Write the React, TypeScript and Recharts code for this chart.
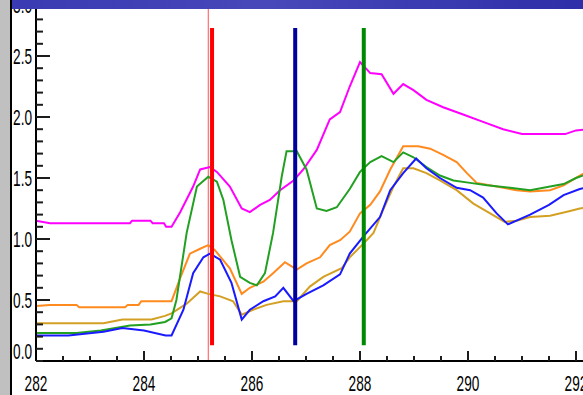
import { LineChart, Line, XAxis, YAxis, ReferenceLine } from "recharts";

// values
const MAGENTA_X = [282, 282.26, 283.74, 283.78, 284.12, 284.16, 284.37, 284.41, 284.51, 284.67, 284.91, 285.04, 285.22, 285.35, 285.59, 285.81, 285.96, 286.15, 286.33, 286.52, 286.77, 286.95, 287.2, 287.44, 287.63, 287.81, 288.0, 288.19, 288.4, 288.62, 288.8, 288.99, 289.23, 289.54, 289.91, 290.28, 290.65, 291.0, 291.8, 292.0, 292.25];
const MAGENTA_Y = [1.15, 1.13, 1.13, 1.15, 1.15, 1.13, 1.13, 1.1, 1.1, 1.22, 1.43, 1.57, 1.59, 1.55, 1.43, 1.25, 1.22, 1.28, 1.32, 1.4, 1.48, 1.57, 1.73, 1.98, 2.04, 2.25, 2.45, 2.36, 2.35, 2.19, 2.27, 2.22, 2.14, 2.08, 2.02, 1.96, 1.9, 1.86, 1.86, 1.89, 1.9];

const GREEN_X = [282, 282.75, 283.2, 283.74, 284.12, 284.39, 284.51, 284.6, 284.79, 284.98, 285.19, 285.35, 285.47, 285.62, 285.78, 285.96, 286.09, 286.24, 286.39, 286.55, 286.64, 286.83, 287.01, 287.2, 287.38, 287.57, 287.81, 288.0, 288.19, 288.4, 288.62, 288.8, 288.99, 289.23, 289.48, 289.73, 290.04, 290.35, 290.78, 291.15, 291.52, 291.77, 292.0, 292.25];
const GREEN_Y = [0.23, 0.23, 0.25, 0.29, 0.3, 0.32, 0.35, 0.5, 1.05, 1.43, 1.51, 1.47, 1.32, 0.99, 0.69, 0.64, 0.62, 0.72, 1.05, 1.51, 1.72, 1.72, 1.57, 1.25, 1.23, 1.26, 1.41, 1.55, 1.63, 1.68, 1.63, 1.71, 1.67, 1.59, 1.52, 1.48, 1.46, 1.44, 1.42, 1.4, 1.43, 1.45, 1.5, 1.54];

const ORANGE_X = [282, 282.26, 282.75, 282.8, 283.65, 283.7, 283.9, 283.95, 284.51, 284.67, 284.85, 285.04, 285.19, 285.31, 285.59, 285.81, 285.96, 286.21, 286.39, 286.61, 286.83, 287.01, 287.26, 287.44, 287.63, 287.81, 288.0, 288.19, 288.37, 288.56, 288.8, 289.08, 289.3, 289.54, 289.79, 289.98, 290.16, 290.53, 290.9, 291.15, 291.52, 291.77, 292.07, 292.25];
const ORANGE_Y = [0.45, 0.46, 0.46, 0.44, 0.44, 0.46, 0.46, 0.49, 0.49, 0.68, 0.88, 0.92, 0.95, 0.91, 0.76, 0.55, 0.6, 0.65, 0.72, 0.81, 0.75, 0.8, 0.85, 0.95, 0.99, 1.06, 1.21, 1.28, 1.39, 1.57, 1.76, 1.76, 1.74, 1.69, 1.63, 1.54, 1.46, 1.43, 1.4, 1.39, 1.4, 1.44, 1.52, 1.56];

const BLUE_X = [282, 282.6, 283.25, 283.6, 284.0, 284.4, 284.51, 284.73, 284.91, 285.1, 285.22, 285.41, 285.62, 285.81, 285.96, 286.21, 286.43, 286.58, 286.77, 287.01, 287.32, 287.63, 287.81, 288.06, 288.37, 288.56, 288.8, 289.04, 289.23, 289.48, 289.79, 290.04, 290.28, 290.53, 290.74, 291.15, 291.5, 291.77, 292.07, 292.25];
const BLUE_Y = [0.21, 0.21, 0.24, 0.27, 0.25, 0.21, 0.21, 0.42, 0.72, 0.85, 0.88, 0.83, 0.64, 0.34, 0.42, 0.49, 0.53, 0.6, 0.49, 0.55, 0.62, 0.71, 0.88, 1.02, 1.18, 1.4, 1.54, 1.66, 1.58, 1.5, 1.42, 1.4, 1.34, 1.21, 1.12, 1.2, 1.28, 1.36, 1.41, 1.43];

const GOLD_X = [282, 283.25, 283.6, 284.14, 284.39, 284.51, 284.79, 285.04, 285.19, 285.41, 285.65, 285.81, 286.02, 286.27, 286.58, 286.83, 287.07, 287.32, 287.66, 287.81, 288.06, 288.25, 288.43, 288.62, 288.8, 288.99, 289.23, 289.48, 289.79, 290.1, 290.41, 290.68, 290.9, 291.15, 291.52, 291.89, 292.07, 292.25];
const GOLD_Y = [0.31, 0.31, 0.34, 0.34, 0.37, 0.39, 0.47, 0.57, 0.55, 0.53, 0.49, 0.38, 0.42, 0.46, 0.49, 0.49, 0.61, 0.69, 0.76, 0.85, 0.96, 1.05, 1.24, 1.43, 1.58, 1.58, 1.54, 1.48, 1.4, 1.29, 1.21, 1.14, 1.15, 1.18, 1.19, 1.23, 1.25, 1.26];

const X_TICKS = [282, 282.5, 283, 283.5, 284, 284.5, 285, 285.5, 286, 286.5, 287, 287.5, 288, 288.5, 289, 289.5, 290, 290.5, 291, 291.5, 292, 292.5, 293];
const X_LABELS = [282, 284, 286, 288, 290, 292];
const Y_TICKS = [0, 0.1, 0.2, 0.3, 0.4, 0.5, 0.6, 0.7, 0.8, 0.9, 1, 1.1, 1.2, 1.3, 1.4, 1.5, 1.6, 1.7, 1.8, 1.9, 2, 2.1, 2.2, 2.3, 2.4, 2.5, 2.6, 2.7, 2.8, 2.9, 3];
const Y_LABELS = [0, 0.5, 1, 1.5, 2, 2.5, 3];

// vertical markers
const MARKER_X = 285.19;
const BAR_X = [285.26, 286.8, 288.07];
const BAR_COLORS = ["#ff0000", "#00009c", "#008800"];
const BAR_TOP = 2.73;
const BAR_BOTTOM = 0.13;

const SERIES = [
  { key: "magenta", xs: MAGENTA_X, ys: MAGENTA_Y, color: "#ff00ff" },
  { key: "gold", xs: GOLD_X, ys: GOLD_Y, color: "#d4a024" },
  { key: "orange", xs: ORANGE_X, ys: ORANGE_Y, color: "#ff8a1e" },
  { key: "green", xs: GREEN_X, ys: GREEN_Y, color: "#22a022" },
  { key: "blue", xs: BLUE_X, ys: BLUE_Y, color: "#1a1aff" },
];

const X_MIN = 282;
const X_MAX = 293;
const Y_MIN = 0;
const Y_MAX = 3;
const CHART_W = 630;
const CHART_H = 410;
const TOP = 10;
const Y_AXIS_W = 36;
const X_AXIS_H = 34;
// data units per pixel, used to size the longer major tick marks
const UX = (X_MAX - X_MIN) / (CHART_W - Y_AXIS_W);
const UY = (Y_MAX - Y_MIN) / (CHART_H - TOP - X_AXIS_H);

const FONT = '"Liberation Sans", Arial, sans-serif';
const TICK_COLOR = "#1c1c1c";

const isMajorY = (v: number) => Y_LABELS.some((l) => Math.abs(l - v) < 1e-6);

function TickText({ x, y, text, anchor }: { x: number; y: number; text: string; anchor: "end" | "middle" }) {
  return (
    <g transform={`translate(${x},${y}) scale(0.62,1)`}>
      <text textAnchor={anchor} fontFamily={FONT} fontSize={22} fill="#000">
        {text}
      </text>
    </g>
  );
}

// minor tick marks come from the axis itself (negative tickSize = inward);
// here only the labels of the major ticks
function YTick(props: any) {
  const v = props.payload.value as number;
  if (!isMajorY(v)) return <g />;
  const x = Number(props.x);
  const y = Number(props.y);
  // end labels sit a little inward, as in the source plot
  let dy = 8;
  if (v === Y_MIN) dy = -2;
  if (v === Y_MAX) dy = 18;
  return <TickText x={x - 4} y={y + dy} text={v.toFixed(1)} anchor="end" />;
}

function XTick(props: any) {
  const v = props.payload.value as number;
  if (!X_LABELS.includes(v)) return <g />;
  return <TickText x={Number(props.x)} y={Number(props.y) + 30} text={String(v)} anchor="middle" />;
}

export default function App() {
  return (
    <div
      style={{
        position: "fixed",
        left: 0,
        top: 0,
        width: 583,
        height: 395,
        overflow: "hidden",
        background: "#fff",
      }}
    >
      <div style={{ position: "absolute", left: 0, top: 0, width: 10, height: 395, background: "#c0c0c0" }} />
      <div style={{ position: "absolute", left: 10, top: 0, width: 2, height: 395, background: "#000" }} />
      <div style={{ position: "absolute", left: 0, top: -15 }}>
        <LineChart width={CHART_W} height={CHART_H} margin={{ top: TOP, right: 0, bottom: 0, left: 0 }}>
          <XAxis
            dataKey="x"
            type="number"
            domain={[X_MIN, X_MAX]}
            ticks={X_TICKS}
            interval={0}
            tickSize={-5}
            tickMargin={5}
            tickLine={{ stroke: TICK_COLOR, strokeWidth: 2 }}
            axisLine={{ stroke: "#000", strokeWidth: 2 }}
            tick={XTick}
            height={X_AXIS_H}
          />
          <YAxis
            type="number"
            domain={[Y_MIN, Y_MAX]}
            ticks={Y_TICKS}
            interval={0}
            tickSize={-7}
            tickMargin={7}
            tickLine={{ stroke: TICK_COLOR, strokeWidth: 2 }}
            axisLine={{ stroke: "#000", strokeWidth: 2 }}
            tick={YTick}
            width={Y_AXIS_W}
          />
          {/* longer major tick marks */}
          {Y_LABELS.map((v) => (
            <ReferenceLine
              key={`ymaj-${v}`}
              segment={[
                { x: X_MIN, y: v },
                { x: X_MIN + 14 * UX, y: v },
              ]}
              stroke={TICK_COLOR}
              strokeWidth={2}
              ifOverflow="visible"
            />
          ))}
          {X_LABELS.map((v) => (
            <ReferenceLine
              key={`xmaj-${v}`}
              segment={[
                { x: v, y: Y_MIN },
                { x: v, y: Y_MIN + 10 * UY },
              ]}
              stroke={TICK_COLOR}
              strokeWidth={2}
              ifOverflow="visible"
            />
          ))}
          <ReferenceLine x={MARKER_X} stroke="#ff5050" strokeWidth={1} ifOverflow="visible" />
          {SERIES.map((s) => (
            <Line
              key={s.key}
              data={s.xs.map((x, i) => ({ x, y: s.ys[i] }))}
              dataKey="y"
              type="linear"
              stroke={s.color}
              strokeWidth={2}
              dot={false}
              isAnimationActive={false}
            />
          ))}
          {BAR_X.map((bx, i) => (
            <ReferenceLine
              key={`bar-${bx}`}
              segment={[
                { x: bx, y: BAR_TOP },
                { x: bx, y: BAR_BOTTOM },
              ]}
              stroke={BAR_COLORS[i]}
              strokeWidth={4}
              ifOverflow="visible"
            />
          ))}
        </LineChart>
      </div>
      <div
        style={{
          position: "absolute",
          left: 12,
          top: 0,
          width: 571,
          height: 9,
          background: "linear-gradient(90deg, #3a3ab2, #4848ba 45%, #2e2ea8)",
        }}
      />
    </div>
  );
}
